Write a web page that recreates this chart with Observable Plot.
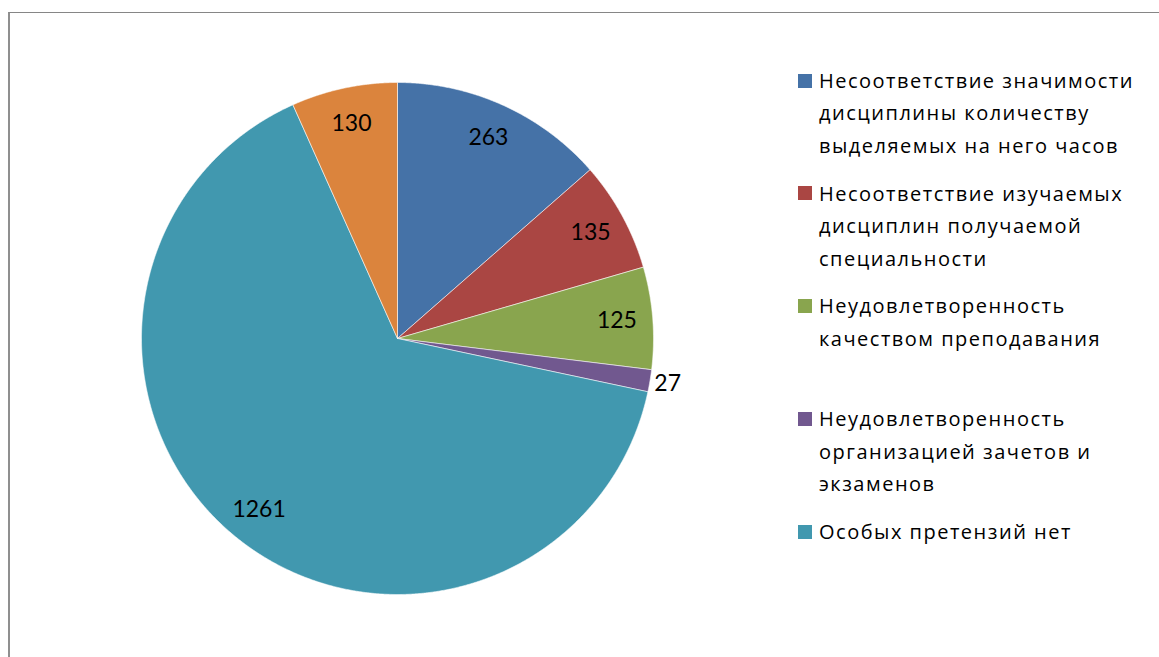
<!DOCTYPE html>
<html>
<head>
<meta charset="utf-8">
<script src="https://cdn.jsdelivr.net/npm/d3@7"></script>
<script src="https://cdn.jsdelivr.net/npm/@observablehq/plot@0.6"></script>
<style>
  html, body { margin: 0; padding: 0; background: #fff; }
  #wrap { position: relative; width: 1159px; height: 657px; overflow: hidden; font-family: "Open Sans", "Noto Sans", sans-serif; }
  #border { position: absolute; left: 8px; top: 12px; width: 1200px; height: 700px; border-top: 1px solid #868686; border-left: 2px solid #8f8f8f; box-sizing: border-box; }
  #chart { position: absolute; left: 0; top: 0; }
  #legend { position: absolute; left: 0; top: 0; }
  .entry { position: absolute; left: 819px; font-size: 20px; letter-spacing: 1.5px; line-height: 32.5px; color: #000; white-space: nowrap; }
  .key { position: absolute; width: 14px; height: 14px; }
</style>
</head>
<body>
<div id="wrap">
  <div id="border"></div>
  <div id="chart"></div>
  <div id="legend"></div>
</div>
<script>
// Data
const categories = [
  "Несоответствие значимости дисциплины количеству выделяемых на него часов",
  "Несоответствие изучаемых дисциплин получаемой специальности",
  "Неудовлетворенность качеством преподавания",
  "Неудовлетворенность организацией зачетов и экзаменов",
  "Особых претензий нет",
  ""
];
const values = [263, 135, 125, 27, 1261, 130];
const colors = ["#4572A7", "#AA4643", "#89A54E", "#71588F", "#4198AF", "#DB843D"];
const legendLines = [
  ["Несоответствие значимости", "дисциплины количеству", "выделяемых на него часов"],
  ["Несоответствие изучаемых", "дисциплин получаемой", "специальности"],
  ["Неудовлетворенность", "качеством преподавания"],
  ["Неудовлетворенность", "организацией зачетов и", "экзаменов"],
  ["Особых претензий нет"]
];

const data = categories.map((c, i) => ({category: c, value: values[i], color: colors[i], index: i}));
const total = d3.sum(values);
const arcs = d3.pie().sort(null).value(d => d.value)(data);

// Build slice polygons in unit-circle data space
const step = Math.PI / 720;
const slices = arcs.map(a => {
  const pts = [{x: 0, y: 0}];
  const n = Math.max(2, Math.ceil((a.endAngle - a.startAngle) / step));
  for (let k = 0; k <= n; k++) {
    const t = a.startAngle + (a.endAngle - a.startAngle) * k / n;
    pts.push({x: Math.sin(t), y: Math.cos(t)});
  }
  pts.push({x: 0, y: 0});
  return {color: a.data.color, pts};
});

const labels = arcs.map(a => {
  const mid = (a.startAngle + a.endAngle) / 2;
  const r = a.data.value / total < 0.03 ? 1.07 : 0.86;
  return {x: Math.sin(mid) * r, y: Math.cos(mid) * r, text: String(a.data.value)};
});

const plot = Plot.plot({
  width: 1159,
  height: 657,
  margin: 0,
  x: {domain: [-1, 1], range: [141, 653], axis: null},
  y: {domain: [-1, 1], range: [594, 82], axis: null},
  style: {background: "transparent", overflow: "visible"},
  marks: [
    ...slices.map(s => Plot.line(s.pts, {x: "x", y: "y", fill: s.color, stroke: "#ffffff", strokeOpacity: 0.55, strokeWidth: 1, strokeLinejoin: "round"})),
    Plot.text(labels, {x: "x", y: "y", text: "text", fontSize: 23, fill: "#000", fontFamily: "Lato, 'Noto Sans', sans-serif"})
  ]
});
document.getElementById("chart").appendChild(plot);

// Legend
const legend = document.getElementById("legend");
legendLines.forEach((lines, i) => {
  const top = 64.75 + i * 112.75;
  const e = document.createElement("div");
  e.className = "entry";
  e.style.top = top + "px";
  e.innerHTML = lines.join("<br>");
  legend.appendChild(e);
  const k = document.createElement("div");
  k.className = "key";
  k.style.left = "798px";
  k.style.top = (top + 16.25 - 7.5) + "px";
  k.style.background = colors[i];
  legend.appendChild(k);
});
</script>
</body>
</html>
